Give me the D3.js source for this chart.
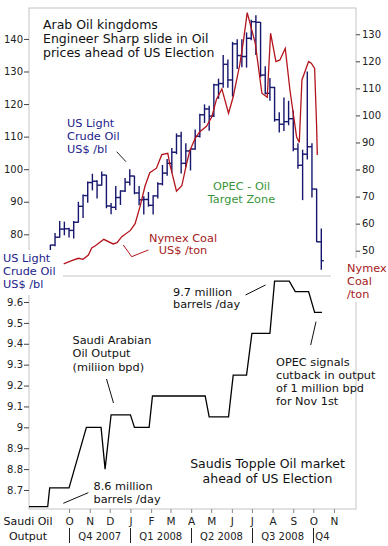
<!DOCTYPE html>
<html>
<head>
<meta charset="utf-8">
<script src="https://d3js.org/d3.v7.min.js"></script>
<style>
  body { margin: 0; background: #fff; }
  svg { display: block; font-family: "DejaVu Sans", Verdana, sans-serif; }
</style>
</head>
<body>
<div id="chart"></div>
<script>
// weekly US light crude bars (week starting Monday): date, open, high, low, close
const crudeWeeks = [
  ['2007-08-27', 71.1, 74.5, 71.0, 74.0],
  ['2007-09-03', 74.0, 76.8, 73.8, 76.7],
  ['2007-09-10', 76.7, 80.4, 76.3, 79.1],
  ['2007-09-17', 79.1, 84.1, 79.0, 81.6],
  ['2007-09-24', 81.6, 83.9, 79.7, 81.7],
  ['2007-10-01', 81.7, 82.0, 79.0, 81.2],
  ['2007-10-08', 81.2, 84.1, 78.7, 83.7],
  ['2007-10-15', 83.7, 90.0, 83.6, 88.6],
  ['2007-10-22', 88.6, 92.2, 85.0, 91.9],
  ['2007-10-29', 91.9, 96.2, 89.7, 95.9],
  ['2007-11-05', 95.9, 98.6, 93.5, 96.3],
  ['2007-11-12', 96.3, 96.6, 91.0, 95.1],
  ['2007-11-19', 95.1, 99.3, 95.0, 98.2],
  ['2007-11-26', 98.2, 98.2, 88.0, 88.7],
  ['2007-12-03', 88.7, 89.6, 86.2, 88.3],
  ['2007-12-10', 88.3, 94.8, 87.5, 91.3],
  ['2007-12-17', 91.3, 93.5, 89.0, 93.3],
  ['2007-12-24', 93.3, 97.3, 93.0, 96.0],
  ['2007-12-31', 96.0, 100.0, 95.0, 97.9],
  ['2008-01-07', 97.9, 98.0, 92.3, 92.7],
  ['2008-01-14', 92.7, 94.8, 88.9, 90.6],
  ['2008-01-21', 90.6, 91.7, 86.1, 90.7],
  ['2008-01-28', 90.7, 93.0, 88.5, 88.9],
  ['2008-02-04', 88.9, 92.0, 86.1, 91.8],
  ['2008-02-11', 91.8, 96.0, 91.0, 95.5],
  ['2008-02-18', 95.5, 101.3, 95.0, 98.8],
  ['2008-02-25', 98.8, 103.1, 98.0, 101.8],
  ['2008-03-03', 101.8, 106.5, 98.9, 105.2],
  ['2008-03-10', 105.2, 111.0, 104.6, 110.2],
  ['2008-03-17', 110.2, 111.5, 98.7, 101.8],
  ['2008-03-24', 101.8, 108.0, 100.6, 105.6],
  ['2008-03-31', 105.6, 106.3, 99.6, 106.2],
  ['2008-04-07', 106.2, 112.2, 106.0, 110.1],
  ['2008-04-14', 110.1, 117.0, 109.7, 116.7],
  ['2008-04-21', 116.7, 119.9, 114.2, 118.5],
  ['2008-04-28', 118.5, 119.5, 111.8, 116.3],
  ['2008-05-05', 116.3, 126.2, 116.0, 125.9],
  ['2008-05-12', 125.9, 127.8, 121.6, 126.3],
  ['2008-05-19', 126.3, 135.1, 125.0, 132.2],
  ['2008-05-26', 132.2, 133.7, 125.0, 127.4],
  ['2008-06-02', 127.4, 139.1, 122.3, 138.5],
  ['2008-06-09', 138.5, 139.9, 130.8, 134.9],
  ['2008-06-16', 134.9, 139.9, 131.3, 134.6],
  ['2008-06-23', 134.6, 142.0, 131.2, 140.2],
  ['2008-06-30', 140.2, 145.9, 139.6, 145.3],
  ['2008-07-07', 145.3, 147.3, 135.1, 145.1],
  ['2008-07-14', 145.1, 145.2, 128.2, 128.9],
  ['2008-07-21', 128.9, 131.6, 122.9, 123.3],
  ['2008-07-28', 123.3, 128.0, 121.0, 125.1],
  ['2008-08-04', 125.1, 125.3, 114.6, 115.2],
  ['2008-08-11', 115.2, 117.5, 111.3, 113.8],
  ['2008-08-18', 113.8, 122.0, 111.7, 114.6],
  ['2008-08-25', 114.6, 121.0, 113.5, 115.5],
  ['2008-09-01', 115.5, 118.0, 105.5, 106.2],
  ['2008-09-08', 106.2, 108.0, 100.1, 101.2],
  ['2008-09-15', 101.2, 106.0, 90.5, 104.6],
  ['2008-09-22', 104.6, 130.0, 103.0, 106.9],
  ['2008-09-29', 106.9, 108.0, 91.3, 93.9],
  ['2008-10-06', 93.9, 94.0, 77.6, 77.7],
  ['2008-10-13', 77.7, 81.8, 69.1, 71.9]
];

// Nymex coal, US$ /ton
const coalPrices = [
  ['2007-09-23', 45.1], ['2007-10-05', 46.3], ['2007-10-15', 47.2], ['2007-10-22', 46.8],
  ['2007-10-30', 48.4], ['2007-11-04', 51.0], ['2007-11-11', 52.1], ['2007-11-22', 54.2],
  ['2007-12-06', 52.5], ['2007-12-12', 53.0], ['2007-12-19', 55.2], ['2008-01-01', 57.5],
  ['2008-01-08', 60.0], ['2008-01-15', 66.0], ['2008-01-23', 74.0], ['2008-01-30', 78.8],
  ['2008-02-09', 80.5], ['2008-02-17', 85.5], ['2008-02-26', 86.0], ['2008-02-29', 82.0],
  ['2008-03-10', 72.0], ['2008-03-18', 74.0], ['2008-03-25', 82.0], ['2008-03-30', 87.0],
  ['2008-04-07', 91.5], ['2008-04-14', 94.0], ['2008-04-24', 96.0], ['2008-05-02', 99.5],
  ['2008-05-09', 106.0], ['2008-05-17', 109.8], ['2008-05-27', 100.8], ['2008-06-03', 106.9],
  ['2008-06-13', 119.0], ['2008-06-18', 127.0], ['2008-06-24', 138.0], ['2008-07-06', 126.7],
  ['2008-07-16', 108.2], ['2008-07-24', 106.7], ['2008-07-29', 130.4], ['2008-08-06', 119.9],
  ['2008-08-12', 120.5], ['2008-08-20', 124.8], ['2008-08-27', 109.4], ['2008-09-06', 92.0],
  ['2008-09-10', 90.0], ['2008-09-14', 113.1], ['2008-09-24', 119.9], ['2008-09-28', 119.3],
  ['2008-10-03', 117.4], ['2008-10-06', 95.9], ['2008-10-07', 85.4]
];

// Saudi oil output, million barrels per day
const saudiOutput = [
  ['2007-08-02', 8.62], ['2007-08-30', 8.62], ['2007-09-02', 8.71], ['2007-10-01', 8.71],
  ['2007-10-27', 9.0], ['2007-11-18', 9.0], ['2007-11-24', 8.8], ['2007-12-03', 9.06],
  ['2008-01-01', 9.06], ['2008-01-07', 9.0], ['2008-01-29', 9.0], ['2008-02-03', 9.15],
  ['2008-04-22', 9.15], ['2008-04-28', 9.05], ['2008-05-27', 9.05], ['2008-06-03', 9.25],
  ['2008-06-23', 9.25], ['2008-07-01', 9.45], ['2008-07-28', 9.45], ['2008-08-04', 9.7],
  ['2008-08-26', 9.7], ['2008-09-04', 9.65], ['2008-09-24', 9.65], ['2008-10-03', 9.55],
  ['2008-10-14', 9.55]
];

const crudeTicks = [80, 90, 100, 110, 120, 130, 140];
const coalTicks = [50, 60, 70, 80, 90, 100, 110, 120, 130];
const outputTicks = [8.7, 8.8, 8.9, 9.0, 9.1, 9.2, 9.3, 9.4, 9.5, 9.6];
const monthLabels = ['O', 'N', 'D', 'J', 'F', 'M', 'A', 'M', 'J', 'J', 'A', 'S', 'O', 'N'];
const quarterLabels = ['Q4 2007', 'Q1 2008', 'Q2 2008', 'Q3 2008', 'Q4'];

const parse = d3.timeParse('%Y-%m-%d');
const W = 388, H = 546;
const plotLeft = 29, plotRight = 356, plotTop = 8, plotMid = 276, plotBottom = 509;

const navy = '#16166e', coalRed = '#b3141c';

const svg = d3.select('#chart').append('svg')
  .attr('width', W).attr('height', H);
svg.append('rect').attr('width', W).attr('height', H).attr('fill', '#fff');

// scales
const x = d3.scaleTime()
  .domain([parse('2007-08-02'), parse('2008-12-04')])
  .range([plotLeft, plotRight]);
const yCrude = d3.scaleLinear().domain([67.2, 149.5]).range([plotMid, plotTop]);
const yCoal = d3.scaleLinear().domain([40.65, 139.7]).range([plotMid, plotTop]);
const yOut = d3.scaleLinear().domain([8.609, 9.7245]).range([plotBottom, plotMid]);

// frames
svg.append('rect')
  .attr('x', plotLeft).attr('y', plotTop)
  .attr('width', plotRight - plotLeft).attr('height', plotBottom - plotTop)
  .attr('fill', 'none').attr('stroke', '#c4c4c4');
svg.append('line')
  .attr('x1', plotLeft).attr('x2', plotRight).attr('y1', plotMid).attr('y2', plotMid)
  .attr('stroke', '#c4c4c4');

svg.append('clipPath').attr('id', 'topClip')
  .append('rect').attr('x', plotLeft).attr('y', plotTop)
  .attr('width', plotRight - plotLeft).attr('height', plotMid - plotTop);

// crude OHLC bars
const bars = svg.append('g').attr('clip-path', 'url(#topClip)')
  .attr('stroke', navy).attr('stroke-width', 1.4)
  .selectAll('g').data(crudeWeeks).enter().append('g');
bars.append('line')
  .attr('x1', d => x(parse(d[0]))).attr('x2', d => x(parse(d[0])))
  .attr('y1', d => yCrude(d[2])).attr('y2', d => yCrude(d[3]));
bars.append('line')
  .attr('x1', d => x(parse(d[0])) - 2.5).attr('x2', d => x(parse(d[0])))
  .attr('y1', d => yCrude(d[1])).attr('y2', d => yCrude(d[1]));
bars.append('line')
  .attr('x1', d => x(parse(d[0]))).attr('x2', d => x(parse(d[0])) + 2.5)
  .attr('y1', d => yCrude(d[4])).attr('y2', d => yCrude(d[4]));

// coal line
svg.append('path')
  .datum(coalPrices)
  .attr('clip-path', 'url(#topClip)')
  .attr('fill', 'none').attr('stroke', coalRed).attr('stroke-width', 1.3)
  .attr('d', d3.line().x(d => x(parse(d[0]))).y(d => yCoal(d[1])));

// saudi output line
svg.append('path')
  .datum(saudiOutput)
  .attr('fill', 'none').attr('stroke', '#000').attr('stroke-width', 1.3)
  .attr('d', d3.line().x(d => x(parse(d[0]))).y(d => yOut(d[1])));

// axes
function styleAxis(g) {
  g.select('.domain').remove();
  g.selectAll('line').attr('stroke', '#444');
  g.selectAll('text').attr('fill', '#222').style('font-size', '10px')
    .style('font-family', '"DejaVu Sans", Verdana, sans-serif');
}
svg.append('g').attr('transform', `translate(${plotLeft},0)`)
  .call(d3.axisLeft(yCrude).tickValues(crudeTicks).tickSize(5).tickPadding(1))
  .call(styleAxis);
svg.append('g').attr('transform', `translate(${plotRight},0)`)
  .call(d3.axisRight(yCoal).tickValues(coalTicks).tickSize(4).tickPadding(2))
  .call(styleAxis);
svg.append('g').attr('transform', `translate(${plotLeft},0)`)
  .call(d3.axisLeft(yOut).tickValues(outputTicks).tickSize(5).tickPadding(1)
    .tickFormat(d => String(+d.toFixed(1))))
  .call(styleAxis);

const monthStarts = d3.timeMonth.range(parse('2007-10-01'), parse('2008-11-02'));
svg.append('g').attr('transform', `translate(0,${plotBottom})`)
  .call(d3.axisBottom(x).tickValues(monthStarts).tickSize(4).tickPadding(5)
    .tickFormat((d, i) => monthLabels[i]))
  .call(styleAxis)
  .call(g => g.selectAll('line').attr('stroke', '#888'))
  .call(g => g.selectAll('text').style('font-size', '10.5px'));

// quarter row
const quarterStarts = d3.timeMonth.every(3).range(parse('2007-10-01'), parse('2008-10-02'));
const qRow = svg.append('g').attr('font-size', 10).attr('fill', '#222');
qRow.selectAll('line').data(quarterStarts).enter().append('line')
  .attr('x1', d => Math.round(x(d)) + 0.5).attr('x2', d => Math.round(x(d)) + 0.5)
  .attr('y1', 528).attr('y2', 543).attr('stroke', '#222');
qRow.selectAll('text').data(quarterLabels).enter().append('text')
  .attr('x', (d, i) => i < quarterStarts.length - 1
    ? (x(quarterStarts[i]) + x(quarterStarts[i + 1])) / 2
    : x(quarterStarts[i]) + 2)
  .attr('y', 540)
  .attr('text-anchor', (d, i) => i < quarterStarts.length - 1 ? 'middle' : 'start')
  .text(d => d);

// label boxes that sit over the frame
svg.append('rect').attr('x', 0).attr('y', 250).attr('width', 63).attr('height', 45).attr('fill', '#fff');
svg.append('rect').attr('x', 331).attr('y', 258).attr('width', 57).attr('height', 44).attr('fill', '#fff');

function lines(list, xPos, y0, dy, opts) {
  const t = svg.append('text')
    .attr('font-size', opts.size || 11.3)
    .attr('fill', opts.color || '#111')
    .attr('text-anchor', opts.anchor || 'start');
  list.forEach((s, i) => {
    t.append('tspan').attr('x', xPos).attr('y', y0 + i * dy).text(s);
  });
}

lines(['Arab Oil kingdoms', 'Engineer Sharp slide in Oil', 'prices ahead of US Election'],
  43, 28.5, 14, { size: 12.5, color: '#111' });
lines(['US Light', 'Crude Oil', 'US$ /bl'], 67, 127, 12.8, { color: '#22228a' });
lines(['Nymex Coal', 'US$ /ton'], 183, 241.7, 11.8, { color: '#a51a1a', anchor: 'middle' });
lines(['OPEC - Oil', 'Target Zone'], 241.5, 190, 13.4, { color: '#3a963a', anchor: 'middle' });
lines(['US Light', 'Crude Oil', 'US$ /bl'], 3, 262, 13, { color: '#22228a' });
lines(['Nymex', 'Coal', '/ton'], 347, 271.5, 13, { color: '#a51a1a' });
lines(['9.7 million', 'barrels /day'], 173, 295.5, 12, {});
lines(['Saudi Arabian', 'Oil Output', '(miliion bpd)'], 72.5, 344, 13.4, {});
lines(['OPEC signals', 'cutback in output', 'of 1 million bpd', 'for Nov 1st'], 276, 365.5, 13.3, {});
lines(['Saudis Topple Oil market', 'ahead of US Election'], 267.5, 468, 14.5, { size: 12.5, anchor: 'middle' });
lines(['8.6 million', 'barrels /day'], 93.5, 490, 13.4, {});
lines(['Saudi Oil', 'Output'], 28, 525, 15, { size: 11, anchor: 'middle' });

// leader lines
const leader = d3.line();
svg.append('path').attr('d', leader([[116.7, 151.7], [126, 161.7]]))
  .attr('stroke', '#222').attr('fill', 'none');
svg.append('path').attr('d', leader([[123.3, 245], [131.7, 256.7], [148.3, 250]]))
  .attr('stroke', coalRed).attr('fill', 'none');
svg.append('path').attr('d', leader([[106.5, 379], [113.5, 403]]))
  .attr('stroke', '#111').attr('fill', 'none');
svg.append('path').attr('d', leader([[245.5, 295], [265.5, 285]]))
  .attr('stroke', '#111').attr('fill', 'none');
svg.append('path').attr('d', leader([[310.7, 345], [316, 321.7]]))
  .attr('stroke', '#111').attr('fill', 'none');
svg.append('path').attr('d', leader([[63.3, 503.3], [88.3, 492.7]]))
  .attr('stroke', '#111').attr('fill', 'none');
</script>
</body>
</html>
